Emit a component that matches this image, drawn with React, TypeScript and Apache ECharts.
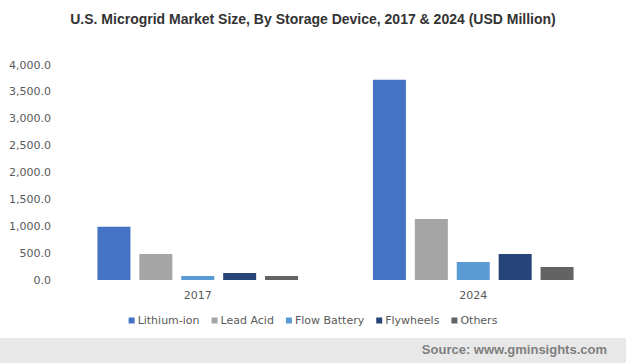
import React, { useEffect, useRef } from "react";
import * as echarts from "echarts";

const categories = ["2017", "2024"];
const seriesNames = ["Lithium-ion", "Lead Acid", "Flow Battery", "Flywheels", "Others"];
const lithiumIon = [990, 3725];
const leadAcid = [482, 1135];
const flowBattery = [75, 335];
const flywheels = [130, 485];
const others = [75, 242];
const colors = ["#4472C4", "#A5A5A5", "#5B9BD5", "#264478", "#636363"];

export default function App() {
  const ref = useRef<HTMLDivElement>(null);
  useEffect(() => {
    if (!ref.current) return;
    const chart = echarts.init(ref.current, null, { renderer: "svg" });
    const values = [lithiumIon, leadAcid, flowBattery, flywheels, others];
    chart.setOption({
      animation: false,
      backgroundColor: "#ffffff",
      title: {
        text: "U.S. Microgrid Market Size, By Storage Device, 2017 & 2024 (USD Million)",
        left: "center",
        top: 7,
        textStyle: {
          fontFamily: "Liberation Sans, Arial, sans-serif",
          fontSize: 14,
          fontWeight: "bold",
          color: "#333333",
        },
      },
      legend: {
        data: seriesNames,
        bottom: 32,
        left: "center",
        itemWidth: 6,
        itemHeight: 6,
        itemGap: 12,
        icon: "rect",
        textStyle: {
          fontFamily: "DejaVu Sans, Verdana, sans-serif",
          fontSize: 11,
          color: "#595959",
          padding: [0, 0, 0, -2],
        },
      },
      grid: { left: 60, right: 15, top: 65, bottom: 83, containLabel: false },
      xAxis: {
        type: "category",
        data: categories,
        axisLine: { show: false },
        axisTick: { show: false },
        axisLabel: {
          color: "#595959",
          fontFamily: "DejaVu Sans, Verdana, sans-serif",
          fontSize: 11,
          margin: 10,
        },
      },
      yAxis: {
        type: "value",
        min: 0,
        max: 4000,
        interval: 500,
        splitLine: { show: false },
        axisLine: { show: false },
        axisTick: { show: false },
        axisLabel: {
          color: "#595959",
          fontFamily: "DejaVu Sans, Verdana, sans-serif",
          fontSize: 11,
          margin: 9,
          formatter: (v: number) =>
            v.toLocaleString("en-US", { minimumFractionDigits: 1, maximumFractionDigits: 1 }),
        },
      },
      series: seriesNames.map((name, i) => ({
        name,
        type: "bar",
        data: values[i],
        barWidth: 33,
        barGap: "27%",
        itemStyle: { color: colors[i] },
      })),
      graphic: [
        {
          type: "rect",
          left: 0,
          top: 338,
          shape: { width: 626, height: 25 },
          style: { fill: "#e8e8e8" },
          silent: true,
        },
        {
          type: "text",
          right: 19,
          top: 343,
          style: {
            text: "Source: www.gminsights.com",
            fill: "#7f7f7f",
            font: "bold 13px 'Liberation Sans', Arial, sans-serif",
          },
        },
      ],
    });
    return () => chart.dispose();
  }, []);
  return <div ref={ref} style={{ width: 626, height: 363, position: "absolute", left: 0, top: 0 }} />;
}
